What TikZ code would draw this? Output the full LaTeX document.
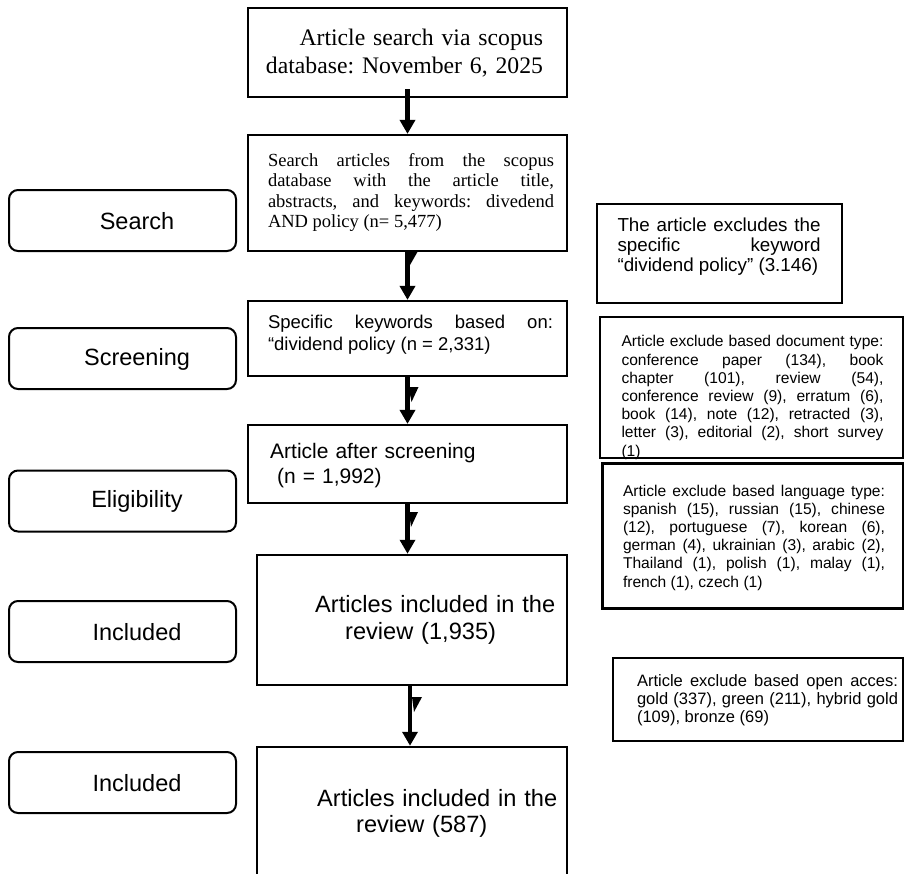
\documentclass[tikz,border=0pt]{standalone}
\usepackage{fontspec}
\setmainfont{Liberation Serif}
\newfontfamily\arial{Liberation Sans}
\usetikzlibrary{arrows.meta}
\frenchspacing
\begin{document}
\begin{tikzpicture}[x=1pt,y=-1pt,
  box/.style={draw, line width=2.2pt, inner sep=0pt},
  lbox/.style={draw, line width=2pt, rounded corners=9pt, minimum width=227pt, minimum height=61pt, inner sep=0pt},
  ltxt/.style={font=\arial\fontsize{23.5}{28}\selectfont, inner sep=0pt},
  para/.style={inner sep=0pt, execute at begin node={\frenchspacing\parindent=0pt\hyphenpenalty=10000\exhyphenpenalty=10000\tolerance=10000\hbadness=10000}},
  flow/.style={line width=4.5pt, -{Triangle[length=14pt,width=15pt]}},
  flag/.style={fill=black}
]
\useasboundingbox (0,0) rectangle (904,873);
\clip (0,0) rectangle (904,873);
\fill[white] (0,0) rectangle (904,873);

% centre column
\node[box, line width=2.7pt, minimum width=319pt, minimum height=89pt] (b1) at (407.5,52.5) {};
\node[para, text width=290pt, align=right, font=\fontsize{23.7}{28}\selectfont] (b1t) at (398,53)
  {Article search via scopus\\database: November 6, 2025};

\node[box, minimum width=319pt, minimum height=116pt] (b2) at (407.5,193) {};
\node[para, text width=286pt, align=justify, font=\fontsize{18.5}{20.3}\selectfont] (b2t) at (411,192.5)
  {Search articles from the scopus\linebreak database with the article title,\linebreak abstracts, and keywords: divedend\linebreak AND policy (n= 5,477)};

\node[box, minimum width=319pt, minimum height=75pt] (b3) at (407.5,338.5) {};
\node[para, text width=285pt, align=justify, font=\arial\fontsize{18.5}{22}\selectfont] (b3t) at (410.5,335)
  {Specific keywords based on:\linebreak “dividend policy (n = 2,331)};

\node[box, minimum width=319pt, minimum height=78pt] (b4) at (407.5,464) {};
\node[para, text width=280pt, align=left, anchor=west, font=\arial\fontsize{21}{25}\selectfont] (b4t) at (270,465.5)
  {Article after screening\\\hspace*{7pt}(n = 1,992)};

\node[box, line width=2.5pt, minimum width=310pt, minimum height=130pt] (b5) at (412,620) {};
\node[para, text width=250pt, align=left, anchor=west, font=\arial\fontsize{23.6}{26.5}\selectfont] (b5t) at (315,620)
  {Articles included in the\\\hspace*{30pt}review (1,935)};

\node[box, line width=2.5pt, minimum width=310pt, minimum height=133pt] (b6) at (412,813.5) {};
\node[para, text width=250pt, align=left, anchor=west, font=\arial\fontsize{23.6}{26.5}\selectfont] (b6t) at (317,813.5)
  {Articles included in the\\\hspace*{39pt}review (587)};

% arrows
\draw[flow] ([yshift=9pt]b1.south) -- (b2.north);
\draw[flow] (b2.south) -- (b3.north);
\draw[flow] (b3.south) -- (b4.north);
\draw[flow] (b4.south) -- (b4.south |- b5.north);
\draw[flow] ([xshift=-2pt]b5.south) -- ([xshift=-2pt]b6.north);

% small flags beside the arrow shafts
\fill[flag] (409,251) -- (418,251) -- (410,265) -- cycle;
\fill[flag] (408.5,387) -- (418.5,387) -- (411.5,402) -- cycle;
\fill[flag] (409,512) -- (418,512) -- (411,527) -- cycle;
\fill[flag] (412,697) -- (422,697) -- (414,712) -- cycle;

% left stage labels
\node[lbox] (l1) at (122.5,220.5) {};
\node[ltxt] (l1t) at (137,221) {Search};
\node[lbox] (l2) at (122.5,358.5) {};
\node[ltxt] (l2t) at (137,359) {Screening};
\node[lbox] (l3) at (122.5,501) {};
\node[ltxt] (l3t) at (137,501.5) {Eligibility};
\node[lbox] (l4) at (122.5,631.5) {};
\node[ltxt] (l4t) at (137,632) {Included};
\node[lbox] (l5) at (122.5,782.5) {};
\node[ltxt] (l5t) at (137,783) {Included};

% right exclusion boxes
\node[box, line width=2.7pt, minimum width=245pt, minimum height=99pt] (r1) at (719.5,253.5) {};
\node[para, text width=203pt, align=justify, font=\arial\fontsize{18.8}{20}\selectfont] (r1t) at (719,247)
  {The article excludes the\linebreak specific keyword\linebreak “dividend policy” (3.146)};

\node[box, minimum width=303pt, minimum height=141pt] (r2) at (751.5,387.5) {};
\node[para, text width=262pt, align=justify, font=\arial\fontsize{15.6}{18.2}\selectfont] (r2t) at (752.5,397.5)
  {Article exclude based document type:\linebreak conference paper (134), book\linebreak chapter (101), review (54),\linebreak conference review (9), erratum (6),\linebreak book (14), note (12), retracted (3),\linebreak letter (3), editorial (2), short survey\linebreak (1)};

\node[box, line width=3pt, minimum width=301pt, minimum height=145pt] (r3) at (752.5,535.5) {};
\node[para, text width=262pt, align=justify, font=\arial\fontsize{15.6}{18.2}\selectfont] (r3t) at (754,537.5)
  {Article exclude based language type:\linebreak spanish (15), russian (15), chinese\linebreak (12), portuguese (7), korean (6),\linebreak german (4), ukrainian (3), arabic (2),\linebreak Thailand (1), polish (1), malay (1),\linebreak french (1), czech (1)};

\node[box, line width=2.6pt, minimum width=290pt, minimum height=83pt] (r4) at (758,699.5) {};
\node[para, text width=261pt, align=justify, font=\arial\fontsize{16.5}{18}\selectfont] (r4t) at (767.5,700)
  {Article exclude based open acces:\linebreak gold (337), green (211), hybrid gold\linebreak (109), bronze (69)};
\end{tikzpicture}
\end{document}
